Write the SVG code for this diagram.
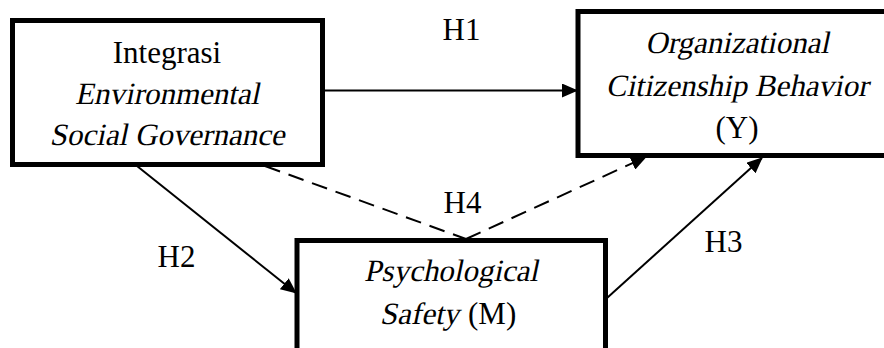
<svg xmlns="http://www.w3.org/2000/svg" width="884" height="348" viewBox="0 0 884 348">
<style>
.box{fill:#fff;stroke:#000;stroke-width:5;stroke-linejoin:miter}
.t{font-family:"Liberation Serif",serif;font-size:31px;fill:#000;text-anchor:middle}
.e{text-anchor:end}
.s{text-anchor:start}
.c{stroke:#000;stroke-width:2;fill:none}
.d{stroke-dasharray:16,9}
</style>
<defs>
<marker id="ah" markerUnits="userSpaceOnUse" markerWidth="16" markerHeight="14" refX="15" refY="7" orient="auto">
<path d="M0,0 L16,7 L0,14 z" fill="#000"/>
</marker>
</defs>
<g id="connectors">
<line class="c" x1="325" y1="90.5" x2="577" y2="90.5" marker-end="url(#ah)"/>
<line class="c" x1="137" y1="166" x2="296" y2="293" marker-end="url(#ah)"/>
<line class="c" x1="607" y1="298" x2="762" y2="158" marker-end="url(#ah)"/>
<line class="c d" x1="265" y1="166" x2="466" y2="239"/>
<line class="c d" x1="466" y1="239" x2="646" y2="157" marker-end="url(#ah)"/>
</g>
<g id="n1">
<rect class="box" x="12.5" y="20.5" width="310" height="144"/>
<text class="t" x="167" y="63">Integrasi</text>
<text class="t" transform="translate(167,104) skewX(-12)">Environmental</text>
<text class="t" transform="translate(167,145) skewX(-12)">Social Governance</text>
</g>
<g id="n2">
<rect class="box" x="578" y="11.5" width="320" height="144"/>
<text class="t" transform="translate(737,53) skewX(-12)">Organizational</text>
<text class="t" transform="translate(737,96) skewX(-12)">Citizenship Behavior</text>
<text class="t" x="737" y="138">(Y)</text>
</g>
<g id="n3">
<rect class="box" x="297" y="240.5" width="308.5" height="120"/>
<text class="t" transform="translate(451,281) skewX(-12)">Psychological</text>
<text class="t e" transform="translate(459,324) skewX(-12)">Safety</text>
<text class="t s" x="468" y="324">(M)</text>
</g>
<g id="labels">
<text class="t" x="461.5" y="40">H1</text>
<text class="t" x="176.5" y="267">H2</text>
<text class="t" x="723.5" y="252">H3</text>
<text class="t" x="462.5" y="213">H4</text>
</g>
</svg>
